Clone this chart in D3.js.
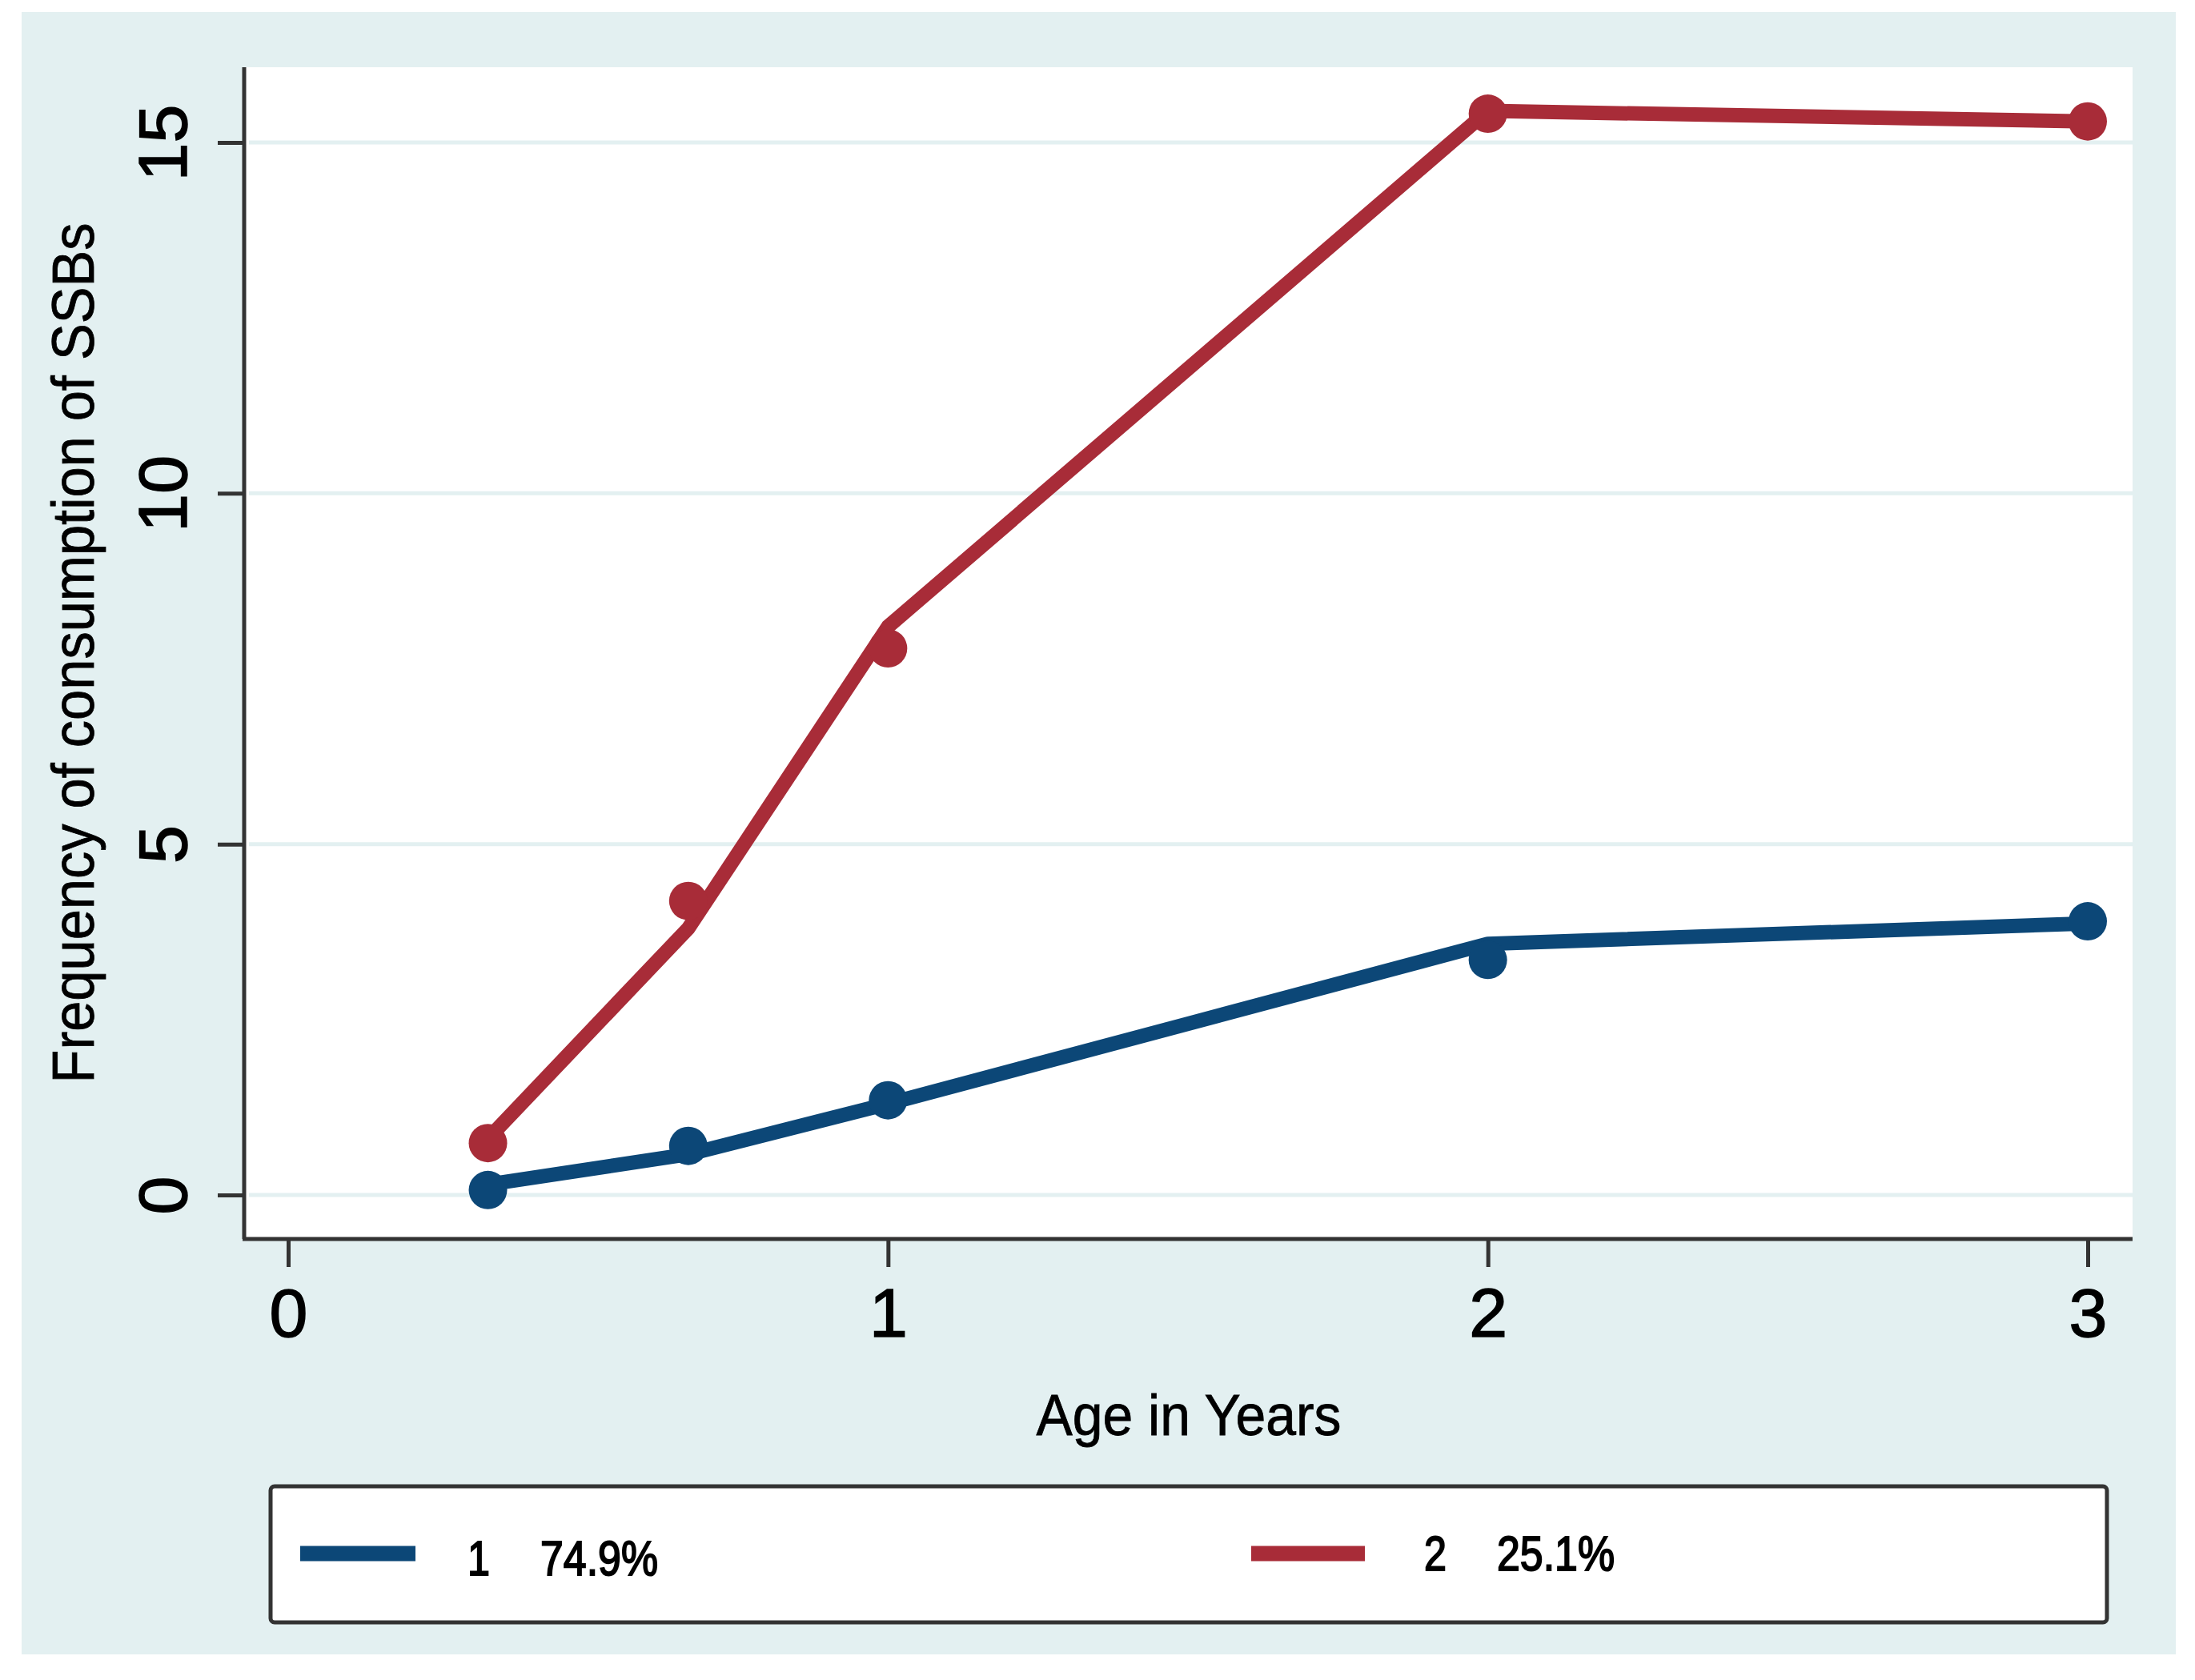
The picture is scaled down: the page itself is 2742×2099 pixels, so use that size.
<!DOCTYPE html>
<html>
<head>
<meta charset="utf-8">
<script src="https://cdn.jsdelivr.net/npm/d3@7"></script>
<style>
  body { margin: 0; background: #ffffff; }
  svg { display: block; }
  text { font-family: "Liberation Sans", Arial, Helvetica, sans-serif; fill: #000; }
</style>
</head>
<body>
<svg id="svg" width="2742" height="2099"></svg>
<script>
// values
const ages = [0.333, 0.667, 1, 2, 3];
const class1Fitted = [0.15, 0.58, 1.3, 3.58, 3.87];
const class1Observed = [0.07, 0.70, 1.35, 3.35, 3.90];
const class2Fitted = [0.8, 3.8, 8.1, 15.45, 15.3];
const class2Observed = [0.74, 4.19, 7.79, 15.41, 15.30];
const xTicks = [0, 1, 2, 3];
const yTicks = [0, 5, 10, 15];
const legendLabels = [["1", "74.9%"], ["2", "25.1%"]];

const navy = "#0c4777";
const maroon = "#a82c38";
const teal = "#e3f0f1";
const axisCol = "#333333";

const svg = d3.select("#svg");

// outer graph region
svg.append("rect")
    .attr("x", 27).attr("y", 15)
    .attr("width", 2718 - 27).attr("height", 2067 - 15)
    .attr("fill", teal);

const plot = { left: 305, right: 2664, top: 84, bottom: 1548 };

svg.append("rect")
    .attr("x", plot.left).attr("y", plot.top)
    .attr("width", plot.right - plot.left).attr("height", plot.bottom - plot.top)
    .attr("fill", "#ffffff");

const x = d3.scaleLinear().domain([0, 3]).range([360, 2608]);
const y = d3.scaleLinear().domain([0, 15]).range([1493, 178]);

// grid lines
svg.append("g").selectAll("line")
    .data(yTicks)
    .join("line")
    .attr("x1", plot.left + 6).attr("x2", plot.right)
    .attr("y1", d => y(d)).attr("y2", d => y(d))
    .attr("stroke", teal).attr("stroke-width", 5);

// y axis
const yAxis = svg.append("g")
    .attr("transform", `translate(${plot.left},0)`)
    .call(d3.axisLeft(y).tickValues(yTicks).tickSize(33).tickFormat(d3.format("d")));
yAxis.select(".domain").remove();
yAxis.selectAll(".tick line").attr("stroke", axisCol).attr("stroke-width", 5);
yAxis.selectAll(".tick text")
    .attr("transform", "rotate(-90)")
    .attr("text-anchor", "middle")
    .attr("x", 0).attr("y", -72).attr("dy", 0)
    .attr("stroke", "#000").attr("stroke-width", 1.5)
    .style("font-size", "86px");
svg.append("line")
    .attr("x1", plot.left).attr("x2", plot.left)
    .attr("y1", plot.top).attr("y2", plot.bottom)
    .attr("stroke", axisCol).attr("stroke-width", 5);

// x axis
const xAxis = svg.append("g")
    .attr("transform", `translate(0,${plot.bottom})`)
    .call(d3.axisBottom(x).tickValues(xTicks).tickSize(35).tickFormat(d3.format("d")));
xAxis.select(".domain").remove();
xAxis.selectAll(".tick line").attr("stroke", axisCol).attr("stroke-width", 5);
xAxis.selectAll(".tick text")
    .attr("y", 122).attr("dy", 0)
    .attr("stroke", "#000").attr("stroke-width", 1.5)
    .style("font-size", "86px");
svg.append("line")
    .attr("x1", plot.left - 2).attr("x2", plot.right)
    .attr("y1", plot.bottom).attr("y2", plot.bottom)
    .attr("stroke", axisCol).attr("stroke-width", 5);

// axis titles
svg.append("text")
    .attr("transform", "translate(117,816) rotate(-90)")
    .attr("text-anchor", "middle")
    .attr("textLength", 1075).attr("lengthAdjust", "spacingAndGlyphs")
    .attr("stroke", "#000").attr("stroke-width", 0.8)
    .style("font-size", "74px")
    .text("Frequency of consumption of SSBs");

svg.append("text")
    .attr("x", 1485).attr("y", 1793)
    .attr("text-anchor", "middle")
    .attr("textLength", 381).attr("lengthAdjust", "spacingAndGlyphs")
    .attr("stroke", "#000").attr("stroke-width", 0.8)
    .style("font-size", "73px")
    .text("Age in Years");

// series
const series = [
    { fitted: class1Fitted, observed: class1Observed, color: navy },
    { fitted: class2Fitted, observed: class2Observed, color: maroon }
];

const line = d3.line()
    .x(d => x(d[0]))
    .y(d => y(d[1]));

series.forEach(s => {
    svg.append("path")
        .datum(ages.map((a, i) => [a, s.fitted[i]]))
        .attr("d", line)
        .attr("fill", "none")
        .attr("stroke", s.color)
        .attr("stroke-width", 18)
        .attr("stroke-linejoin", "round");
    svg.append("g").selectAll("circle")
        .data(ages.map((a, i) => [a, s.observed[i]]))
        .join("circle")
        .attr("cx", d => x(d[0]))
        .attr("cy", d => y(d[1]))
        .attr("r", 24)
        .attr("fill", s.color);
});

// legend
svg.append("rect")
    .attr("x", 338).attr("y", 1857)
    .attr("width", 2632 - 338).attr("height", 2027 - 1857)
    .attr("rx", 5)
    .attr("fill", "#ffffff")
    .attr("stroke", axisCol).attr("stroke-width", 5);

const legendItems = [
    { color: navy, x0: 375, x1: 519, numX: 584, pctX: 675, base: 1968, lab: legendLabels[0] },
    { color: maroon, x0: 1563, x1: 1705, numX: 1779, pctX: 1870, base: 1962, lab: legendLabels[1] }
];

legendItems.forEach(it => {
    svg.append("line")
        .attr("x1", it.x0).attr("x2", it.x1)
        .attr("y1", 1941).attr("y2", 1941)
        .attr("stroke", it.color).attr("stroke-width", 19);
    svg.append("text")
        .attr("x", it.numX).attr("y", it.base)
        .attr("textLength", 28).attr("lengthAdjust", "spacingAndGlyphs")
        .attr("stroke", "#000").attr("stroke-width", 2)
        .style("font-size", "62px")
        .text(it.lab[0]);
    svg.append("text")
        .attr("x", it.pctX).attr("y", it.base)
        .attr("textLength", 147).attr("lengthAdjust", "spacingAndGlyphs")
        .attr("stroke", "#000").attr("stroke-width", 2)
        .style("font-size", "62px")
        .text(it.lab[1]);
});
</script>
</body>
</html>
